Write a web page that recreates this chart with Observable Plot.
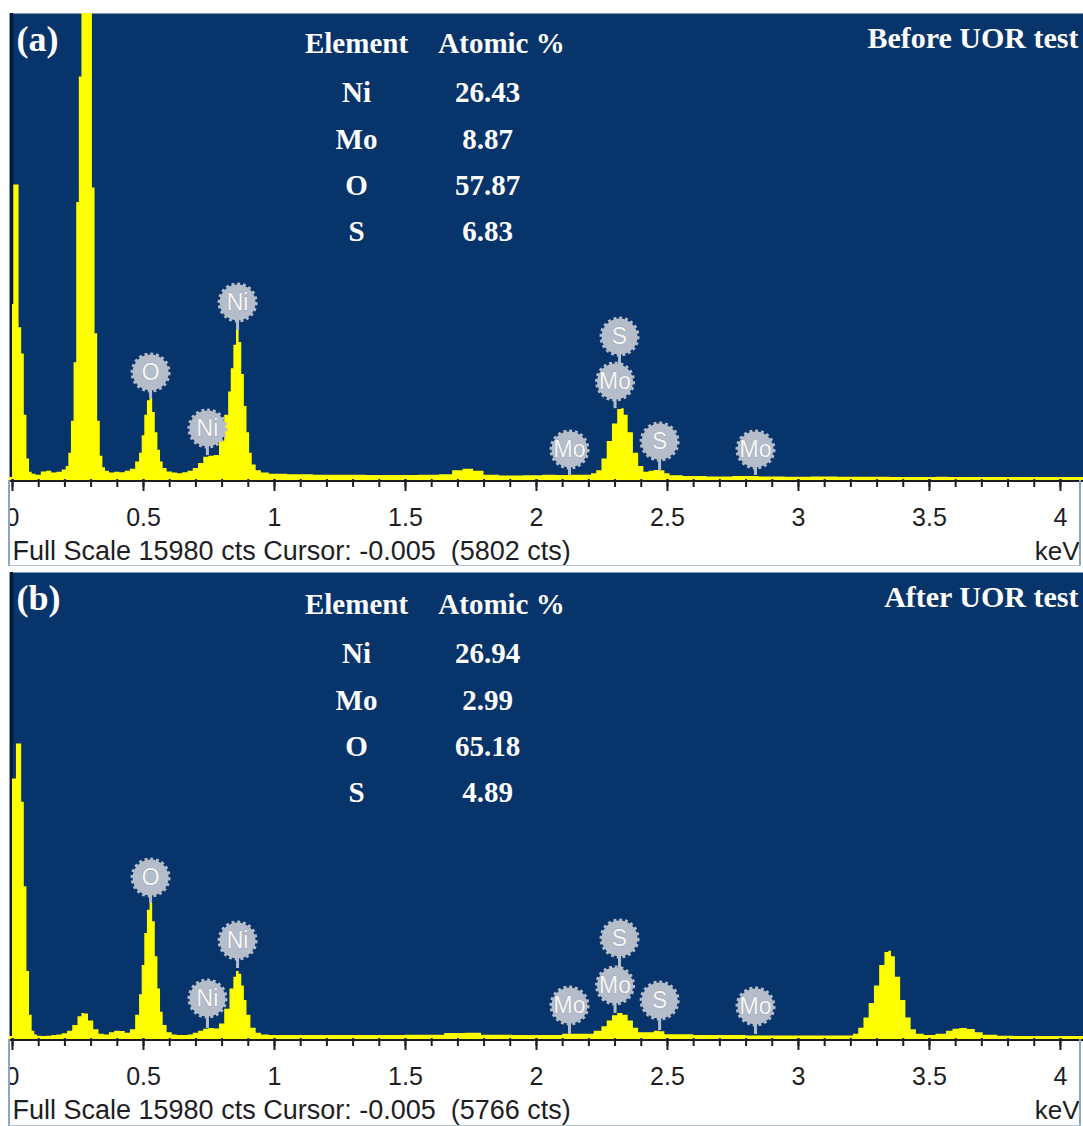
<!DOCTYPE html>
<html><head><meta charset="utf-8">
<script src="https://cdn.jsdelivr.net/npm/d3@7"></script>
<script src="https://cdn.jsdelivr.net/npm/@observablehq/plot@0.6"></script>
<style>
html,body{margin:0;padding:0;background:#fff;}
#chart{width:1083px;}
.panel{position:relative;width:1083px;overflow:hidden;}
.panel svg{display:block;}
.mask{position:absolute;left:0;width:8px;background:#fff;border-right:2px solid #8ea5c4;}
.rborder{position:absolute;left:1079px;width:2px;background:#8ea5c4;}
.bborder{position:absolute;left:9px;width:1072px;height:1px;background:#b4c2d6;}
</style></head>
<body><div id="chart"></div>
<script>
// ---------- data ----------
const fullScale = 15980;
const panelTags = ["(a)", "(b)"];
const conditions = ["Before UOR test", "After UOR test"];
const cursorCounts = ["5802", "5766"];
const tableHeader = ["Element", "Atomic %"];
const elements = ["Ni", "Mo", "O", "S"];
const atomicA = ["26.43", "8.87", "57.87", "6.83"];
const atomicB = ["26.94", "2.99", "65.18", "4.89"];
const majorTicks = [0, 0.5, 1, 1.5, 2, 2.5, 3, 3.5, 4];
const tickLabels = ["0", "0.5", "1", "1.5", "2", "2.5", "3", "3.5", "4"];
const minorTicks = [0, 0.1, 0.2, 0.3, 0.4, 0.5, 0.6, 0.7, 0.8, 0.9, 1, 1.1, 1.2, 1.3, 1.4, 1.5, 1.6, 1.7, 1.8, 1.9, 2,
  2.1, 2.2, 2.3, 2.4, 2.5, 2.6, 2.7, 2.8, 2.9, 3, 3.1, 3.2, 3.3, 3.4, 3.5, 3.6, 3.7, 3.8, 3.9, 4];

// spectrum (a): energy keV, counts
const energyA = [
  0, 0.01, 0.02, 0.03, 0.04, 0.05, 0.06, 0.07, 0.08, 0.10,
  0.12, 0.14, 0.16, 0.18, 0.20, 0.21, 0.22, 0.23, 0.24, 0.25,
  0.26, 0.27, 0.28, 0.29, 0.30, 0.31, 0.32, 0.33, 0.34, 0.35,
  0.36, 0.38, 0.40, 0.42, 0.44, 0.46, 0.48, 0.49, 0.50, 0.51,
  0.52, 0.53, 0.54, 0.55, 0.56, 0.57, 0.58, 0.60, 0.62, 0.64,
  0.66, 0.68, 0.70, 0.72, 0.74, 0.76, 0.78, 0.80, 0.82, 0.83,
  0.84, 0.85, 0.86, 0.87, 0.88, 0.89, 0.90, 0.91, 0.92, 0.94,
  0.96, 1.00, 1.10, 1.20, 1.30, 1.40, 1.50, 1.60, 1.66, 1.70,
  1.74, 1.78, 1.82, 1.90, 2.00, 2.05, 2.10, 2.15, 2.20, 2.22,
  2.24, 2.26, 2.28, 2.30, 2.32, 2.33, 2.34, 2.36, 2.38, 2.40,
  2.42, 2.44, 2.46, 2.48, 2.50, 2.52, 2.60, 2.70, 2.80, 2.90,
  3.00, 3.10, 3.20, 3.30, 3.40, 3.50, 3.55, 3.60, 3.70, 3.75,
  3.80, 3.90, 4.00, 4.09];
const countsA = [
  6000, 10100, 10100, 5200, 4300, 2200, 700, 250, 180, 150,
  260, 280, 220, 250, 330, 450, 900, 2000, 4000, 9500,
  13800, 22000, 30000, 30000, 22000, 10000, 5000, 2000, 800, 400,
  280, 220, 250, 230, 280, 350, 600, 900, 1500, 2200,
  2700, 2780, 2300, 1600, 1000, 600, 380, 260, 220, 200,
  230, 280, 380, 550, 760, 800, 820, 1300, 2200, 3000,
  3800, 4600, 5110, 4700, 3600, 2500, 1600, 900, 500, 300,
  220, 180, 160, 150, 150, 140, 140, 150, 160, 300,
  350, 280, 150, 120, 130, 150, 140, 150, 150, 200,
  300, 700, 1300, 1900, 2400, 2430, 2200, 1600, 900, 450,
  250, 280, 310, 300, 200, 130, 100, 90, 100, 90,
  80, 90, 80, 80, 70, 40, 80, 40, 60, 70,
  40, 30, 30, 30];

// spectrum (b)
const energyB = [
  0, 0.01, 0.02, 0.03, 0.04, 0.05, 0.06, 0.07, 0.08, 0.09,
  0.10, 0.12, 0.14, 0.16, 0.18, 0.20, 0.22, 0.24, 0.26, 0.27,
  0.28, 0.30, 0.32, 0.34, 0.36, 0.38, 0.40, 0.42, 0.44, 0.46,
  0.48, 0.49, 0.50, 0.51, 0.52, 0.53, 0.54, 0.55, 0.56, 0.57,
  0.58, 0.60, 0.62, 0.64, 0.66, 0.68, 0.70, 0.72, 0.74, 0.76,
  0.78, 0.80, 0.82, 0.84, 0.85, 0.86, 0.87, 0.88, 0.89, 0.90,
  0.92, 0.94, 0.96, 1.00, 1.20, 1.40, 1.60, 1.70, 1.76, 1.82,
  2.00, 2.20, 2.24, 2.26, 2.28, 2.30, 2.32, 2.34, 2.36, 2.38,
  2.40, 2.44, 2.46, 2.48, 2.50, 2.70, 2.90, 3.10, 3.20, 3.22,
  3.24, 3.26, 3.28, 3.30, 3.32, 3.34, 3.35, 3.36, 3.38, 3.40,
  3.42, 3.44, 3.46, 3.50, 3.55, 3.58, 3.60, 3.63, 3.66, 3.69,
  3.72, 3.80, 3.85, 3.90, 3.95, 4.00, 4.09];
const countsB = [
  8900, 8900, 10100, 10100, 8100, 5200, 2300, 800, 250, 120,
  80, 60, 80, 100, 120, 160, 250, 450, 750, 860,
  840, 600, 300, 150, 120, 200, 250, 240, 180, 300,
  800, 1500, 2500, 3600, 4400, 4630, 4000, 2800, 1700, 900,
  450, 200, 120, 100, 100, 120, 180, 250, 320, 340,
  330, 500, 1000, 1700, 2100, 2300, 2200, 1800, 1300, 800,
  350, 180, 120, 100, 100, 100, 110, 170, 180, 110,
  100, 150, 250, 400, 600, 780, 860, 800, 600, 350,
  200, 200, 250, 230, 130, 100, 90, 90, 90, 150,
  350, 700, 1200, 1800, 2500, 2950, 2990, 2800, 2100, 1300,
  700, 300, 150, 100, 150, 250, 320, 340, 310, 200,
  110, 80, 30, 60, 60, 50, 50];

// peak markers
const peakLabels = ["O", "Ni", "Ni", "Mo", "Mo", "S", "S", "Mo"];
const peakEnergy = [0.527, 0.859, 0.744, 2.126, 2.300, 2.317, 2.470, 2.836];
const labelCountsA = [3670, 6070, 1750, 1030, 3360, 4900, 1300, 1030];
const stemCountsA  = [2780, 5110, 820, 140, 2430, 3360, 310, 140];
const labelCountsB = [5520, 3360, 1370, 1130, 1820, 3430, 1300, 1100];
const stemCountsB  = [4630, 2400, 340, 140, 860, 1820, 270, 140];

// ---------- styling ----------
const NAVY = "#07346a";
const YELLOW = "#ffff00";
const BADGE = "#b5bdca";
const INK = "#1e1e24";
const SANS = "'Liberation Sans', Arial, sans-serif";
const SERIF = "'Liberation Serif', 'Times New Roman', serif";
const X_DOMAIN = [-0.0115, 4.088];

function makePanel(i, energy, counts, labelCounts, stemCounts, atomic, marginTop, marginBottom, height, rowShift) {
  const spectrum = energy.map((e, k) => ({e, c: counts[k]}));
  const badges = peakLabels.map((el, k) => ({el, e: peakEnergy[k], ly: labelCounts[k], sy: stemCounts[k]}));
  const rows = [{a: tableHeader[0], b: tableHeader[1], head: true}]
    .concat(elements.map((el, k) => ({a: el, b: atomic[k], head: false})));
  const rowDy = [30, 79, 126, 172, 218].map(d => d + rowShift);
  const tableMarks = rows.flatMap((r, k) => [
    Plot.text([r], {text: "a", frameAnchor: "top-left", dx: 347, dy: rowDy[k], textAnchor: "middle", lineAnchor: "middle",
      fill: "#fff", fontFamily: SERIF, fontWeight: "bold", fontSize: 29}),
    Plot.text([r], {text: "b", frameAnchor: "top-left", dx: r.head ? 492 : 478, dy: rowDy[k], textAnchor: "middle", lineAnchor: "middle",
      fill: "#fff", fontFamily: SERIF, fontWeight: "bold", fontSize: 29})
  ]);
  const caption = `Full Scale ${fullScale} cts Cursor: -0.005  (${cursorCounts[i]} cts)`;

  return Plot.plot({
    width: 1083, height, marginLeft: 9, marginRight: 0, marginTop, marginBottom,
    x: {domain: X_DOMAIN, label: null},
    y: {domain: [0, fullScale], axis: null},
    style: {background: "#fff", fontFamily: SANS, fontSize: "25px", color: INK, overflow: "visible"},
    marks: [
      Plot.frame({fill: NAVY}),
      Plot.ruleX([0], {stroke: "#0d1a2e", strokeWidth: 3, dx: -1}),
      Plot.areaY(spectrum, {x: "e", y: "c", curve: "step", fill: YELLOW, clip: true}),
      Plot.ruleY([0], {stroke: YELLOW, strokeWidth: 3, dy: -1}),
      Plot.ruleY([0], {stroke: INK, strokeWidth: 2, dy: 1.5}),
      Plot.axisX({ticks: minorTicks, tickSize: 8, tickFormat: () => "", stroke: INK, strokeWidth: 2, label: null}),
      Plot.axisX({ticks: majorTicks, tickSize: 12, tickPadding: 17, tickFormat: (d, k) => tickLabels[k],
        stroke: INK, strokeWidth: 2, fill: INK, fontSize: 25, label: null}),
      Plot.ruleX(badges, {x: "e", y1: "sy", y2: "ly", stroke: BADGE, strokeWidth: 3}),
      Plot.dot(badges, {x: "e", y: "ly", r: 18, fill: BADGE, stroke: BADGE, strokeWidth: 4, strokeDasharray: "2.8 2.8"}),
      Plot.text(badges, {x: "e", y: "ly", text: "el", fill: "#f6f6f6", fontSize: 23, fontFamily: SANS,
        stroke: "#8e96a4", strokeWidth: 0.6}),
      Plot.text([panelTags[i]], {frameAnchor: "top-left", dx: 7, dy: 26, textAnchor: "start", lineAnchor: "middle",
        fill: "#fff", fontFamily: SERIF, fontWeight: "bold", fontSize: 36}),
      Plot.text([conditions[i]], {frameAnchor: "top-right", dx: -5, dy: 25, textAnchor: "end", lineAnchor: "middle",
        fill: "#fff", fontFamily: SERIF, fontWeight: "bold", fontSize: 30}),
      ...tableMarks,
      Plot.text([caption], {frameAnchor: "bottom-left", dx: 3, dy: 72, textAnchor: "start", lineAnchor: "middle",
        fill: INK, fontFamily: SANS, fontSize: 27}),
      Plot.text(["keV"], {frameAnchor: "bottom-right", dx: -4, dy: 72, textAnchor: "end", lineAnchor: "middle",
        fill: INK, fontFamily: SANS, fontSize: 26})
    ]
  });
}

const chart = document.getElementById("chart");
const specs = [
  {i: 0, e: energyA, c: countsA, l: labelCountsA, s: stemCountsA, at: atomicA, mt: 13, mb: 87, h: 566, rs: 0},
  {i: 1, e: energyB, c: countsB, l: labelCountsB, s: stemCountsB, at: atomicB, mt: 6, mb: 88, h: 560, rs: 2}
];
for (const sp of specs) {
  const div = document.createElement("div");
  div.className = "panel";
  div.style.height = sp.h + "px";
  div.appendChild(makePanel(sp.i, sp.e, sp.c, sp.l, sp.s, sp.at, sp.mt, sp.mb, sp.h, sp.rs));
  const axisTop = sp.h - sp.mb + 1;
  const mask = document.createElement("div");
  mask.className = "mask"; mask.style.top = axisTop + "px"; mask.style.height = (sp.mb - 1) + "px";
  const rb = document.createElement("div");
  rb.className = "rborder"; rb.style.top = axisTop + "px"; rb.style.height = (sp.mb - 1) + "px";
  const bb = document.createElement("div");
  bb.className = "bborder"; bb.style.top = (sp.h - 1) + "px";
  div.append(mask, rb, bb);
  chart.appendChild(div);
}
</script>
</body></html>
